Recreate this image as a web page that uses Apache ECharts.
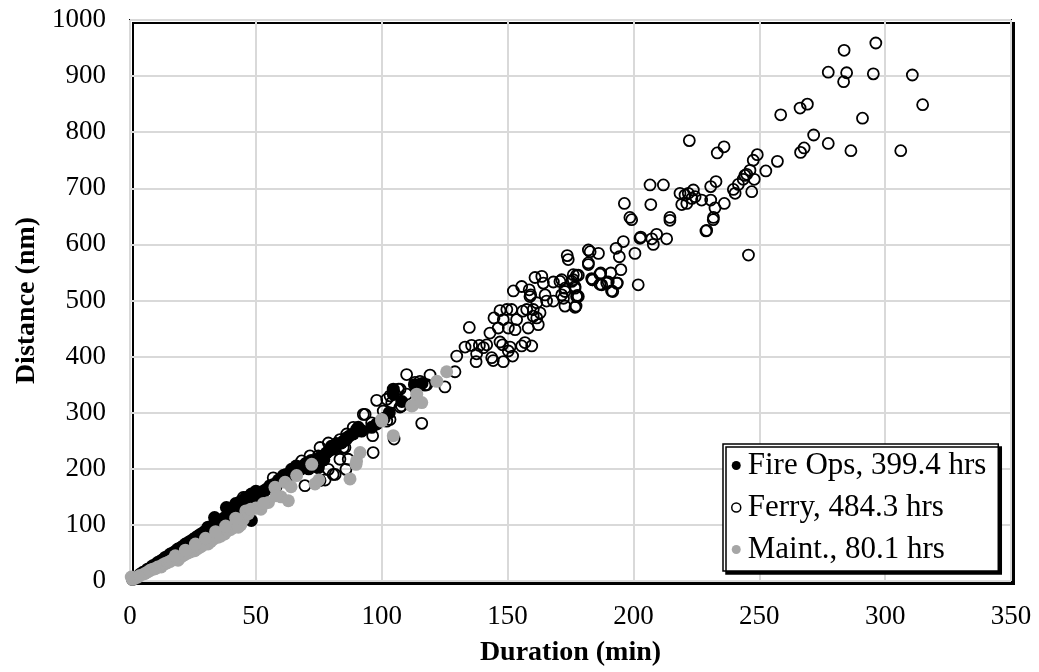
<!DOCTYPE html>
<html>
<head>
<meta charset="utf-8">
<script src="https://cdn.jsdelivr.net/npm/echarts@6/dist/echarts.min.js"></script>
<style>
html,body{margin:0;padding:0;background:#fff;}
#chart{width:1039px;height:672px;}
</style>
</head>
<body>
<div id="chart"></div>
<script>
// Series names (legend labels)
const seriesNames = ['Fire Ops, 399.4 hrs', 'Ferry, 484.3 hrs', 'Maint., 80.1 hrs'];
const xTitle = 'Duration (min)';
const yTitle = 'Distance (nm)';

// [duration (min), distance (nm)]
const fireOps = [
  [1,3],[2,6],[3,8],[4,12],[5,15],[6,17],[7,21],[8,23],[9,27],[10,29],[11,33],[12,35],[13,38],[14,42],
  [15,44],[16,48],[17,50],[18,53],[19,57],[20,59],[21,62],[22,66],[23,68],[24,71],[25,74],[26,77],
  [27,80],[28,83],[29,86],[30,89],[31,93],[31,96],[32,95],[33,99],[34,101],[33.6,113],[35,105],[36,107],
  [37,111],[38,114],[38.3,131],[40,120],[41,122],[42,125],[43,129],[44,132],[45,136],[46,140],[47,145],
  [48.2,155],[47.7,152],[49.7,143],[48.2,108],[50,148],[51.6,158],[52,135],[53,160],[55.6,170],[57,172],
  [42,138],[44,142],[46,149],[49,138],[51,150],[53,145],[50,160],[54,163],[58,168],[61,180],[63,186],
  [59,180],[60.9,188],[62,190],[64.2,199],[66,205],[68,200],[70,210],[72,215],[74.8,202],[76,222],
  [66,196],[69,206],[71,200],[73,212],[75,218],[77,216],[79,232],[81,236],[84,246],[87,258],
  [78,228],[80,240],[82,245],[85,250],[86,255],[88.7,262],[90,270],[90.7,274],[92,268],[96,274],
  [98,280],[101,290],[103,300],[104.6,333],[104.6,342],[108,320],[113,350],[116,352]
];

const ferry = [
  [296.3,959],[283.7,946],[277.4,907],[284.7,906],[295.3,904],[310.8,902],[283.5,890],[314.9,849],
  [258.5,831],[266.2,843],[269.1,850],[291,825],[271.6,795],[277.4,780],[267.8,772],[266.4,764],
  [286.4,767],[306.2,767],[257.2,748],[252.6,731],[249.2,760],[247.6,750],[246.3,732],[244.3,723],
  [248,716],[247,694],
  [222.2,785],[236,774],[233.3,763],[245,725],[243.6,716],[241.7,707],[239.7,698],[240.4,691],
  [236.1,673],[232.4,665],[231.8,648],[229.1,625],[245.7,581],[232.8,712],[230.7,703],[230.7,679],
  [227.1,679],[223.8,697],[224.5,685],[221.8,691],[220.5,688],[218.5,691],[219.2,671],[221.2,673],
  [223.2,682],[206.6,706],[211.9,706],[196.4,673],[206.9,671],[198.6,648],[199.3,644],[214.5,648],
  [214.5,643],[231.7,644],[228.8,624],
  [202.9,613],[207.9,600],[209.2,618],[207.3,610],[213.2,610],[196,605],[193.1,593],[200.6,584],
  [194.4,578],[201.9,528],[182.8,587],[186.1,584],[182.1,564],[173.7,580],[174.1,573],[195,555],
  [191,549],[193.4,531],[187,549],[183.8,537],[187.4,528],[191.8,516],[189.4,531],[176.1,546],
  [178.1,545],[175.5,534],[176.8,525],[177.7,509],[177.2,490],[172.8,490],[168.2,499],[170.8,534],
  [168.2,533],[163.6,543],[160.9,541],[164.2,531],[158.6,519],[158.9,507],[164.9,510],[161.6,496],
  [152.3,517],[155.6,525],[172.2,504],[172.8,516],[202.6,611],[182.1,590],[186.7,547],[183.4,539],
  [186.7,529],[190,533],[193.6,531],[191.3,517],[177.4,545],[176.1,537],[176.8,522],[178.1,507],
  [172.8,522],[171.5,510],[176.8,488],[171.5,537],[182.1,567],[183.7,537],
  [159.2,510],[165.5,499],[177.4,507],[161.6,469],[162.9,478],[160.2,484],[157.6,484],[156,481],
  [151.6,484],[149.7,484],[147,482],[144.6,469],[148.3,466],[153.6,466],[150.3,451],[146.3,451],
  [153,448],[158.2,451],[162.2,457],[160.2,472],[134.8,452],[143,442],[133.1,417],[135.7,420],
  [138.8,420],[141.7,421],[140.4,416],[137.7,405],[148,421],[147,426],[151,417],[150.3,410],[152,401],
  [143.7,398],[144.3,393],[148.3,391],[137.5,391],[155.6,419],[159.6,419],[156.9,425],[129.8,401],
  [129.1,373],[125.1,346],[119.2,367],[115.2,356],[117.2,349],[109.9,368],[107.3,342],[105.3,333],
  [107.3,310],[98,322],[102,324],[104,318],[100.6,303],[93.4,297],[96,282],[102,285],[115.9,281],
  [104.9,253],[96.4,259],[86.1,262],
  [113.2,354],[117.9,350],[106.6,342],[103.3,330],[109.9,333],[107.9,312],[103.3,288],[88.7,274],
  [86.1,253],[84.7,238],[96.6,229],[86.7,217],
  [92.7,297],[92,267],[83.4,252],[85.4,238],[78.8,246],[75.5,238],[81.5,235],[83.4,217],[85.8,199],
  [81.5,190],[74.8,223],[71.5,223],[68.2,214],[78.8,199],[77.5,180],[69.5,170],[56.9,184],[45,149],
  [80.7,190],[75.5,179]
];

const maint = [
  [0.5,7],[1,3],[2,5],[3,7],[4,10],[5.8,13],[7,16],[8,19],[9,21],[10,22],[11,25],[12.4,25],[13,29],
  [14,31],[15,33],[16,35],[17,38],[19.1,37],[20,42],[21,45],[22,48],[23,50],[24,52],[25.7,54],[27,58],
  [28,61],[29,64],[31,66],[32,70],[33,74],[35,78],[36,80],[37.6,84],[39,90],[40,92],[41,95],[43,96],
  [44,100],[45,110],[46,125],[47,120],[50,130],[52,128],[55,140],[57.6,167],[60,150],[61.6,176],
  [18,45],[22,55],[26,66],[30,76],[34,88],[38,98],[42,112],[48,128],[53,138],[58,152],[64,168],
  [62.9,143],[66.2,188],[72.2,208],[73.5,173],[75,180],[87.4,182],[89.8,208],[90,214],[91.4,229],
  [100,285],[100,288],[104.6,259],[111.9,312],[112.3,313],[113.9,333],[115.9,318],[121.9,356],[125.8,373]
];

const xTicks = { min: 0, max: 350, interval: 50 };
const yTicks = { min: 0, max: 1000, interval: 100 };

const serif = '"Liberation Serif", "DejaVu Serif", serif';
const chart = echarts.init(document.getElementById('chart'), null, { renderer: 'canvas' });

chart.setOption({
  backgroundColor: '#ffffff',
  animation: false,
  grid: {
    left: 130, right: 28, top: 20, bottom: 88,
    show: true, backgroundColor: '#ffffff',
    borderColor: '#000', borderWidth: 2,
    shadowColor: '#000', shadowOffsetX: 3, shadowOffsetY: 3, shadowBlur: 0
  },
  legend: {
    orient: 'vertical',
    left: 723, top: 444,
    padding: [6, 12, 6, 8],
    itemGap: 11,
    itemWidth: 9, itemHeight: 9,
    backgroundColor: '#fff',
    borderColor: '#000', borderWidth: 1.5,
    shadowColor: '#000', shadowOffsetX: 3, shadowOffsetY: 3, shadowBlur: 0,
    textStyle: { fontFamily: serif, fontSize: 31, color: '#000', padding: [0, 0, 0, 2] },
    data: [
      { name: seriesNames[0], icon: 'circle', itemStyle: { color: '#000', borderWidth: 0 } },
      { name: seriesNames[1], icon: 'circle', itemStyle: { color: '#fff', borderColor: '#000', borderWidth: 1.5 } },
      { name: seriesNames[2], icon: 'circle', itemStyle: { color: '#a6a6a6', borderWidth: 0 } }
    ]
  },
  xAxis: {
    type: 'value', min: xTicks.min, max: xTicks.max, interval: xTicks.interval,
    name: xTitle, nameLocation: 'middle', nameGap: 58,
    nameTextStyle: { fontFamily: serif, fontSize: 28, fontWeight: 'bold', color: '#000' },
    axisLine: { show: false }, axisTick: { show: false },
    axisLabel: { fontFamily: serif, fontSize: 27, color: '#000', margin: 22 },
    splitLine: { show: true, lineStyle: { color: '#d9d9d9', width: 2 } }
  },
  yAxis: {
    type: 'value', min: yTicks.min, max: yTicks.max, interval: yTicks.interval,
    name: yTitle, nameLocation: 'middle', nameGap: 82,
    nameTextStyle: { fontFamily: serif, fontSize: 28, fontWeight: 'bold', color: '#000' },
    axisLine: { show: false }, axisTick: { show: false },
    axisLabel: { fontFamily: serif, fontSize: 27, color: '#000', margin: 24, formatter: v => String(v) },
    splitLine: { show: true, lineStyle: { color: '#d9d9d9', width: 2 } }
  },
  series: [
    {
      name: seriesNames[0], type: 'scatter', data: fireOps, symbol: 'circle', symbolSize: 13,
      itemStyle: { color: '#000', opacity: 1 }
    },
    {
      name: seriesNames[1], type: 'scatter', data: ferry, symbol: 'circle', symbolSize: 11,
      itemStyle: { color: 'rgba(255,255,255,0)', borderColor: '#000', borderWidth: 1.8, opacity: 1 }
    },
    {
      name: seriesNames[2], type: 'scatter', data: maint, symbol: 'circle', symbolSize: 13,
      itemStyle: { color: '#a6a6a6', opacity: 1 }
    }
  ]
});
</script>
</body>
</html>
